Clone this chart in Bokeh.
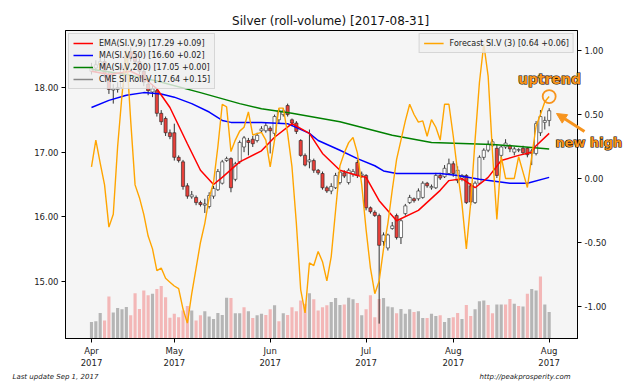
from bokeh.plotting import figure
from bokeh.models import (Range1d, LinearAxis, FixedTicker, NumeralTickFormatter, Legend,
                          LegendItem, Arrow, NormalHead, ColumnDataSource)
from bokeh.core.properties import value
from bokeh.embed import file_html
from bokeh.resources import INLINE

# ---------------- data ----------------
opens = [18.25, 18.30, 18.35, 18.40, 18.20, 17.96, 17.97, 18.00, 18.30, 18.55,
         18.48, 18.40, 18.25, 18.05, 17.93, 17.95, 17.60, 17.52, 17.30, 17.30,
         16.92, 16.85, 16.48, 16.31, 16.30, 16.22, 16.18, 16.16, 16.32, 16.42,
         16.52, 16.87, 16.90, 16.58, 16.85, 17.08, 17.18, 17.20, 17.18, 17.33,
         17.33, 17.37, 17.29, 17.50, 17.58, 17.72, 17.50, 17.45, 17.18, 16.95,
         16.85, 16.87, 16.72, 16.67, 16.45, 16.40, 16.45, 16.53, 16.68, 16.53,
         16.66, 16.84, 16.64, 16.64, 16.14, 16.07, 16.02, 15.62, 15.52, 15.82,
         16.02, 15.68, 16.05, 16.22, 16.28, 16.28, 16.30, 16.52, 16.45, 16.45,
         16.64, 16.62, 16.67, 16.82, 16.56, 16.60, 16.64, 16.48, 16.22, 16.52,
         16.92, 17.03, 17.10, 17.06, 16.95, 17.08, 17.10, 17.00, 17.03, 17.06,
         17.06, 16.98, 16.98, 17.30, 17.46, 17.49]
closes = [18.30, 18.35, 18.40, 18.22, 17.97, 17.98, 18.00, 18.30, 18.50, 18.45,
          18.40, 18.25, 18.08, 17.95, 17.98, 17.60, 17.47, 17.30, 17.24, 16.92,
          16.87, 16.47, 16.32, 16.34, 16.22, 16.19, 16.20, 16.33, 16.44, 16.70,
          16.85, 16.90, 16.45, 16.82, 17.15, 17.22, 17.15, 17.13, 17.26, 17.36,
          17.41, 17.33, 17.55, 17.64, 17.64, 17.58, 17.45, 17.32, 16.95, 16.80,
          16.88, 16.72, 16.68, 16.45, 16.40, 16.47, 16.64, 16.69, 16.63, 16.72,
          16.70, 16.64, 16.66, 16.14, 16.08, 16.02, 15.56, 15.72, 15.72, 15.86,
          15.68, 15.94, 16.17, 16.30, 16.25, 16.40, 16.52, 16.48, 16.47, 16.64,
          16.60, 16.75, 16.82, 16.67, 16.72, 16.64, 16.22, 16.23, 16.52, 16.92,
          17.03, 17.12, 17.16, 16.64, 17.08, 17.14, 17.05, 17.05, 17.04, 16.99,
          16.96, 17.02, 17.44, 17.55, 17.49, 17.64]
highs = [18.38, 18.42, 18.48, 18.45, 18.25, 18.05, 18.08, 18.35, 18.55, 18.62,
         18.55, 18.45, 18.30, 18.10, 18.05, 17.98, 17.65, 17.55, 17.35, 17.44,
         16.95, 16.88, 16.52, 16.40, 16.33, 16.25, 16.28, 16.38, 16.48, 16.74,
         16.88, 16.93, 16.92, 16.85, 17.18, 17.25, 17.22, 17.25, 17.30, 17.40,
         17.45, 17.40, 17.58, 17.67, 17.68, 17.75, 17.52, 17.48, 17.20, 16.98,
         17.35, 16.90, 16.74, 16.70, 16.48, 16.52, 16.68, 16.72, 16.72, 16.75,
         16.74, 16.88, 16.70, 16.66, 16.16, 16.10, 16.05, 15.76, 15.74, 15.92,
         16.05, 15.97, 16.20, 16.34, 16.30, 16.44, 16.55, 16.54, 16.50, 16.68,
         16.68, 16.80, 16.90, 16.86, 16.78, 16.66, 16.66, 16.52, 16.55, 16.95,
         17.06, 17.18, 17.20, 17.12, 17.10, 17.20, 17.12, 17.08, 17.06, 17.10,
         17.08, 17.05, 17.48, 17.65, 17.55, 17.68]
lows = [18.20, 18.24, 18.30, 18.15, 17.90, 17.75, 17.92, 17.98, 18.25, 18.40,
        18.35, 18.20, 18.02, 17.88, 17.85, 17.55, 17.42, 17.25, 17.20, 16.87,
        16.84, 16.42, 16.28, 16.28, 16.18, 16.16, 16.06, 16.13, 16.28, 16.40,
        16.50, 16.85, 16.38, 16.55, 16.82, 17.00, 16.95, 17.08, 17.15, 17.30,
        17.30, 16.98, 17.25, 17.45, 17.55, 17.55, 17.40, 17.28, 16.93, 16.78,
        16.75, 16.68, 16.65, 16.42, 16.37, 16.35, 16.43, 16.50, 16.60, 16.50,
        16.62, 16.60, 16.60, 16.10, 16.05, 16.00, 14.35, 15.55, 15.48, 15.80,
        15.65, 15.58, 16.02, 16.20, 16.22, 16.25, 16.28, 16.45, 16.42, 16.43,
        16.57, 16.60, 16.65, 16.62, 16.52, 16.55, 16.20, 16.18, 16.20, 16.50,
        16.88, 17.00, 17.08, 16.60, 16.90, 17.05, 17.00, 16.95, 17.00, 16.97,
        16.92, 16.80, 16.95, 17.25, 17.35, 17.40]
volume = [41, 43, 64, 45, 105, 65, 76, 73, 79, 58, 113, 74, 120, 108, 112, 124, 131, 103,
          52, 62, 53, 70, 81, 70, 45, 58, 68, 55, 49, 64, 59, 102, 101, 63, 63, 78,
          68, 51, 58, 62, 59, 73, 83, 43, 63, 59, 78, 68, 95, 87, 113, 98, 70, 78, 83,
          91, 101, 84, 85, 102, 98, 89, 58, 73, 108, 53, 99, 101, 80, 78, 63,
          74, 62, 73, 66, 68, 51, 51, 62, 56, 58, 41, 51, 53, 64, 49, 84, 56, 73, 93,
          95, 84, 63, 85, 85, 85, 99, 87, 81, 80, 112, 124, 120, 155, 85, 66]
volume_up = [1, 1, 1, 0, 0, 1, 1, 1, 1, 0, 0, 0, 0, 0, 1, 0, 0, 0, 0, 0, 0, 0, 0, 1, 0, 0,
             1, 1, 1, 1, 1, 1, 0, 1, 1, 0,
             1, 0, 1, 1, 0, 0, 1, 0, 1, 0, 0, 0, 0, 0, 1, 0, 0, 0, 0, 1, 1, 1, 0, 1, 1,
             0, 1, 0, 0, 0, 0, 1, 1, 1, 0,
             1, 1, 1, 0, 1, 1, 0, 1, 1, 0, 1, 1, 0, 0, 1, 0, 0, 1, 1, 1, 0, 0, 1, 1, 0,
             0, 1, 0, 1, 0, 1, 1, 0, 1, 1]
forecast = [0.09, 0.30, 0.12, -0.05, -0.38, -0.28, 0.25, 0.65, 1.00, 0.45,
            -0.05, -0.15, -0.28, -0.45, -0.55, -0.72, -0.70, -0.78, -0.81, -0.84,
            -0.86, -1.02, -1.13, -0.90, -0.70, -0.50, -0.35, -0.15, -0.03, 0.25,
            0.58, 0.56, 0.21, 0.30, 0.37, 0.40, 0.52, 0.34, 0.35, 0.36,
            0.30, 0.09, 0.30, 0.55, 0.55, 0.35, 0.09, -0.35, -0.87, -1.05,
            -0.66, -0.68, -0.57, -0.65, -0.80, -0.61, -0.25, 0.10, 0.20, 0.28,
            0.32, 0.20, -0.05, -0.40, -0.70, -0.90, -0.80, -0.55, -0.35, -0.09,
            0.15, 0.30, 0.45, 0.58, 0.50, 0.44, 0.45, 0.33, 0.46, 0.40,
            0.30, 0.58, 0.58, 0.33, 0.05, -0.20, -0.55, -0.19, 0.30, 0.75,
            1.05, 0.80, 0.20, -0.32, 0.17, 0.00, 0.00, 0.00, 0.17, 0.05,
            -0.07, 0.17, 0.41, 0.50, 0.60, 0.64]
ema_idx = [0, 4, 9, 12, 15, 18, 22, 25, 28, 30, 34, 39, 42, 46, 50, 53, 57, 61, 63, 66,
           70, 75, 80, 82, 85, 88, 91, 94, 98, 101, 102, 105]
ema_val = [18.25, 18.20, 18.25, 18.15, 17.98, 17.69, 17.13, 16.72, 16.50, 16.61, 16.85,
           17.02, 17.23, 17.44, 17.29, 16.98, 16.72, 16.64, 16.61, 16.25, 15.94, 16.10,
           16.41, 16.56, 16.59, 16.45, 16.61, 16.87, 16.95, 17.00, 17.10, 17.29]
ma50_idx = [0, 4, 8, 12, 16, 19, 23, 27, 30, 32, 39, 45, 50, 52, 57, 61, 65, 67, 70, 80,
            84, 89, 96, 100, 105]
ma50_val = [17.69, 17.80, 17.88, 17.92, 17.90, 17.85, 17.75, 17.62, 17.49, 17.46, 17.46,
            17.44, 17.29, 17.18, 17.03, 16.90, 16.79, 16.71, 16.67, 16.67, 16.64, 16.58,
            16.52, 16.52, 16.61]
ma200_idx = [0, 8, 15, 25, 34, 39, 46, 57, 69, 78, 92, 105]
ma200_val = [18.28, 18.20, 18.10, 17.92, 17.75, 17.67, 17.60, 17.47, 17.26, 17.15, 17.12, 17.05]
tick_idx = [0, 19, 41, 63, 83, 105]
tick_labels = ["Apr\n2017", "May\n2017", "Jun\n2017", "Jul\n2017", "Aug\n2017", "Aug\n2017"]
price_ticks = [15, 16, 17, 18]
forecast_ticks = [-1.0, -0.5, 0.0, 0.5, 1.0]

# ---------------- main figure ----------------
FONT = "DejaVu Sans"
ORANGE = "#f7941d"
N = len(closes)
idx = list(range(N))

p = figure(width=640, height=384, output_backend="svg", toolbar_location=None,
           x_range=Range1d(-5.96, 111.5), y_range=Range1d(14.12, 18.88),
           min_border_left=65, min_border_right=63, min_border_top=30, min_border_bottom=46)
p.extra_y_ranges = {"fc": Range1d(-1.25, 1.156), "vol": Range1d(0, 770)}
p.background_fill_color = "#f5f5f5"
p.border_fill_color = "white"
p.outline_line_color = "black"
p.outline_line_width = 1
p.grid.visible = False

p.xaxis.ticker = FixedTicker(ticks=tick_idx)
p.xaxis.major_label_overrides = {t: l for t, l in zip(tick_idx, tick_labels)}
p.yaxis.ticker = FixedTicker(ticks=price_ticks)
p.yaxis.formatter = NumeralTickFormatter(format="0.00")
rax = LinearAxis(y_range_name="fc", ticker=FixedTicker(ticks=forecast_ticks),
                 formatter=NumeralTickFormatter(format="0.00"))
p.add_layout(rax, "right")
for ax in [p.xaxis[0], p.yaxis[0], rax]:
    ax.major_tick_out = 4
    ax.major_tick_in = 0
    ax.minor_tick_line_color = None
    ax.axis_line_color = "black"
    ax.major_tick_line_color = "black"
    ax.major_label_text_font = FONT
    ax.major_label_text_font_size = "8.5px"
    ax.major_label_text_color = "#222222"
    ax.major_label_standoff = 3

# volume
vol_src = ColumnDataSource(dict(x=idx, top=volume,
                                color=["#b5b5b5" if u else "#f3b7b7" for u in volume_up]))
p.vbar(x="x", top="top", bottom=0, width=0.72, source=vol_src, y_range_name="vol",
       fill_color="color", line_color=None)

# candles
csrc = ColumnDataSource(dict(
    x=idx, high=highs, low=lows,
    top=[max(o, c) for o, c in zip(opens, closes)],
    bottom=[min(o, c) for o, c in zip(opens, closes)],
    color=["white" if c >= o else "#e8403a" for o, c in zip(opens, closes)]))
p.segment(x0="x", y0="high", x1="x", y1="low", source=csrc, line_color="#333333", line_width=1)
p.vbar(x="x", top="top", bottom="bottom", width=0.72, source=csrc,
       fill_color="color", line_color="#222222", line_width=0.6)

# moving averages
r_ma200 = p.line(ma200_idx, ma200_val, line_color="#008000", line_width=1.5)
r_ma50 = p.line(ma50_idx, ma50_val, line_color="#0000ff", line_width=1.5)
r_ema = p.line(ema_idx, ema_val, line_color="#ff0000", line_width=1.5)
# legend-only entry for the roll series (one NaN point: nothing drawn in the frame)
r_cme = p.line([0], [float("nan")], line_color="#888888", line_width=1.5)

# forecast
r_fc = p.line(idx, forecast, y_range_name="fc", line_color="#ffa500", line_width=1.4)
p.scatter([idx[-1]], [forecast[-1]], y_range_name="fc", size=13, marker="circle",
          fill_color=None, line_color=ORANGE, line_width=1.8)

# legends
leg1 = Legend(items=[LegendItem(label="EMA(SI.V,9) [17.29 +0.09]", renderers=[r_ema]),
                     LegendItem(label="MA(SI.V,50) [16.60 +0.02]", renderers=[r_ma50]),
                     LegendItem(label="MA(SI.V,200) [17.05 +0.00]", renderers=[r_ma200]),
                     LegendItem(label="CME SI Roll-V [17.64 +0.15]", renderers=[r_cme])],
              location="top_left")
leg2 = Legend(items=[LegendItem(label="Forecast SI.V (3) [0.64 +0.06]", renderers=[r_fc])],
              location="top_right")
for lg in (leg1, leg2):
    lg.label_text_font = FONT
    lg.label_text_font_size = "8px"
    lg.label_text_color = "#222222"
    lg.label_height = 10
    lg.glyph_height = 10
    lg.glyph_width = 20
    lg.spacing = 2
    lg.padding = 4
    lg.margin = 3
    lg.label_standoff = 6
    lg.background_fill_color = "#f0f0f0"
    lg.background_fill_alpha = 0.8
    lg.border_line_color = "#bbbbbb"
    p.add_layout(lg)

# ---------------- transparent overlay for page-level texts ----------------
ov = figure(width=640, height=384, output_backend="svg", toolbar_location=None,
            x_range=Range1d(0, 640), y_range=Range1d(384, 0),
            x_axis_type=None, y_axis_type=None,
            min_border_left=0, min_border_right=0, min_border_top=0, min_border_bottom=0)
ov.title = None
ov.grid.visible = False
ov.outline_line_color = None
ov.background_fill_alpha = 0
ov.border_fill_alpha = 0
ov.styles = {"position": "absolute", "top": "0px", "left": "0px"}

ov.text(x=[332], y=[20], text=["Silver (roll-volume)  [2017-08-31]"], text_font=value(FONT),
        text_font_size="12px", text_align="center", text_baseline="middle",
        text_color="#111111")
ov.text(x=[12], y=[376], text=["Last update Sep  1, 2017"], text_font=value(FONT),
        text_font_style="italic", text_font_size="7px", text_align="left",
        text_baseline="middle", text_color="#222222")
ov.text(x=[570], y=[376], text=["http://peakprosperity.com"], text_font=value(FONT),
        text_font_style="italic", text_font_size="7px", text_align="right",
        text_baseline="middle", text_color="#222222")

ov.add_layout(Arrow(end=NormalHead(size=10, fill_color=ORANGE, line_color=ORANGE),
                    x_start=584, y_start=131, x_end=556, y_end=113,
                    line_color=ORANGE, line_width=3))
for col, outline in (("black", "black"), (ORANGE, None)):
    ov.text(x=[549], y=[78], text=["uptrend"], text_font=value(FONT),
            text_font_style="bold", text_font_size="14px", text_color=col,
            text_outline_color=outline, text_align="center", text_baseline="middle")
    ov.text(x=[555], y=[142], text=["new high"], text_font=value(FONT),
            text_font_style="bold", text_font_size="13px", text_color=col,
            text_outline_color=outline, text_align="left", text_baseline="middle")

open("out.html", "w").write(file_html([p, ov], INLINE))
